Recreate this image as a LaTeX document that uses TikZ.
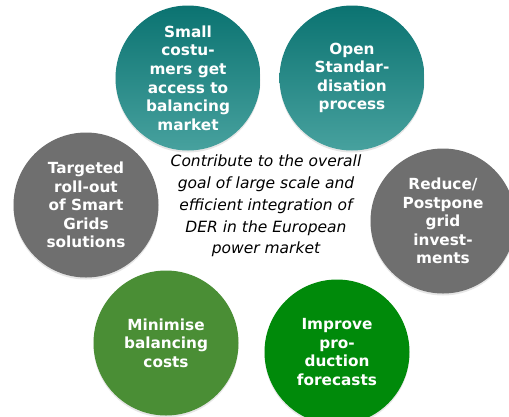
\documentclass[tikz,border=0pt]{standalone}
\usepackage{fontspec}
\setmainfont{DejaVu Sans}
\usetikzlibrary{shadows}
\definecolor{tealtop}{HTML}{0B7371}
\definecolor{tealbot}{HTML}{47A19E}
\definecolor{goalgray}{HTML}{6F6F6F}
\definecolor{olivegreen}{HTML}{4A8E35}
\definecolor{brightgreen}{HTML}{008A0A}
\begin{document}
\begin{tikzpicture}[x=1pt,y=-1pt,
    goal/.style={circle, minimum size=145pt, inner sep=0pt, text=white, align=center,
      font=\fontsize{15.3}{18.6}\selectfont\bfseries,
      drop shadow={opacity=0.2, shadow xshift=0pt, shadow yshift=-2pt}},
    tealgoal/.style={goal, top color=tealtop, bottom color=tealbot, draw=none},
    graygoal/.style={goal, fill=goalgray},
    overall/.style={align=center, font=\fontsize{15.5}{21.8}\selectfont\itshape}]
    \useasboundingbox (0,0) rectangle (509,416);

    \node[tealgoal] (access) at (188,78) {Small\\costu-\\mers get\\access to\\balancing\\market};
    \node[tealgoal] (standard) at (352,78) {Open\\Standar-\\disation\\process};
    \node[graygoal] (rollout) at (86,205) {Targeted\\roll-out\\of Smart\\Grids\\solutions};
    \node[graygoal] (grid) at (443,221) {Reduce/\\Postpone\\grid\\invest-\\ments};
    \node[goal, fill=olivegreen] (balancing) at (166,343) {Minimise\\balancing\\costs};
    \node[goal, fill=brightgreen] (forecast) at (337,352) {Improve\\pro-\\duction\\forecasts};

    \node[overall] (aim) at (266,206) {Contribute to the overall\\goal of large scale and\\efficient integration of\\DER in the European\\power market};
\end{tikzpicture}
\end{document}
